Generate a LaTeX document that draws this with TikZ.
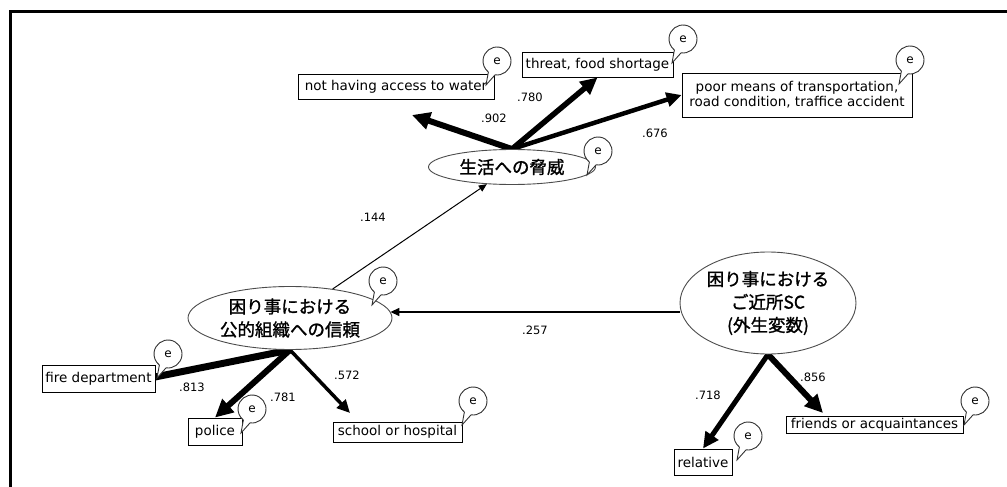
\documentclass[tikz,border=0pt]{standalone}
\usepackage{fontspec}
\newfontfamily\latfont{DejaVu Sans}
\newfontfamily\jpfont[FakeBold=1.3]{Noto Sans CJK JP}
\usetikzlibrary{arrows.meta,shapes.geometric}
\pgfdeclarelayer{bg}
\pgfsetlayers{bg,main}

\tikzset{
  obs/.style={draw=black, fill=white, line width=0.9pt, inner sep=0pt, align=center,
    font=\latfont\fontsize{13.5}{15}\selectfont},
  lat/.style={ellipse, draw=black!70, fill=white, line width=0.9pt, inner sep=0pt, align=center,
    font=\jpfont\fontsize{17.5}{23}\selectfont},
  coef/.style={inner sep=0pt, font=\latfont\fontsize{11.5}{13}\selectfont},
  path/.style={line width=#1, -{Triangle[length=6pt 2, width=5pt 2]}},
  ebub/.pic={
    \draw[line width=0.9pt, draw=black!80, fill=white]
      (98:14) arc[start angle=98, end angle=-232, radius=14] -- (-11,24) -- cycle;
    \node[inner sep=0pt, font=\latfont\fontsize{12}{12}\selectfont] (-t) at (0,0) {e};
  }
}

\begin{document}
\begin{tikzpicture}[x=1pt,y=-1pt]
\useasboundingbox (0,0) rectangle (1007,487);

% open frame
\draw[line width=3pt, line join=miter] (10,487) -- (10,12) -- (1010,12);

% latent variables
\node[lat, minimum width=167pt, minimum height=35pt] (life) at (512,167) {生活への脅威};
\node[lat, minimum width=204pt, minimum height=63pt] (trust) at (290,318) {困り事における\\公的組織への信頼};
\node[lat, minimum width=176pt, minimum height=102pt] (sc) at (768,303) {困り事における\\ご近所SC\\(外生変数)};

% observed variables
\node[obs, minimum width=196pt, minimum height=25pt] (water) at (396,86.5) {not having access to water};
\node[obs, minimum width=151pt, minimum height=25pt] (threat) at (597.5,64.5) {threat, food shortage};
\node[obs, minimum width=230pt, minimum height=44pt] (poor) at (797,95) {poor means of transportation,\\road condition, traffice accident};
\node[obs, minimum width=113pt, minimum height=27pt] (fire) at (98.5,378.5) {fire department};
\node[obs, minimum width=54pt, minimum height=27pt] (police) at (215,431.5) {police};
\node[obs, minimum width=129pt, minimum height=20pt] (school) at (397.5,432) {school or hospital};
\node[obs, minimum width=58pt, minimum height=26pt] (relative) at (703,462) {relative};
\node[obs, minimum width=177pt, minimum height=17pt] (friends) at (874.5,424.5) {friends or acquaintances};

% free arrow ends
\coordinate (watertip) at (412,115);
\coordinate (firetip) at (115,385);
\coordinate (schooltip) at (350,413);
\coordinate (friendstip) at (823,413);

% paths
\begin{pgfonlayer}{bg}
\draw[path=6pt] (life.north) -- (watertip);
\draw[path=5.5pt] (life.north) -- (threat.south);
\draw[path=4.5pt] (life.north) -- (poor.west);
\draw[path=1pt] (trust) -- (life);
\draw[path=1.5pt] ([yshift=-9pt]sc.west) -- ([yshift=6pt,xshift=-2pt]trust.east);
\draw[path=7pt] (trust.south) -- (firetip);
\draw[path=6pt] (trust.south) -- (police.north);
\draw[path=3.5pt] (trust.south) -- (schooltip);
\draw[path=5pt] (sc.south) -- (relative.north);
\draw[path=6pt] (sc.south) -- (friendstip);
\end{pgfonlayer}

% coefficients
\node[coef] (c902) at (494,118) {.902};
\node[coef] (c780) at (530,97) {.780};
\node[coef] (c676) at (655,133) {.676};
\node[coef] (c144) at (373,217) {.144};
\node[coef] (c257) at (535,330) {.257};
\node[coef] (c813) at (192,387) {.813};
\node[coef] (c781) at (283,397) {.781};
\node[coef] (c572) at (347,375) {.572};
\node[coef] (c718) at (708,395) {.718};
\node[coef] (c856) at (813,377) {.856};

% error terms
\pic (ewater) at (497,61) {ebub};
\pic (ethreat) at (683,39) {ebub};
\pic (epoor) at (910,60) {ebub};
\pic (elife) at (598,151) {ebub};
\pic (etrust) at (383,281) {ebub};
\pic (efire) at (168,354) {ebub};
\pic (epolice) at (252,409) {ebub};
\pic (eschool) at (473,401) {ebub};
\pic (erelative) at (748,436) {ebub};
\pic (efriends) at (975,401) {ebub};
\end{tikzpicture}
\end{document}
